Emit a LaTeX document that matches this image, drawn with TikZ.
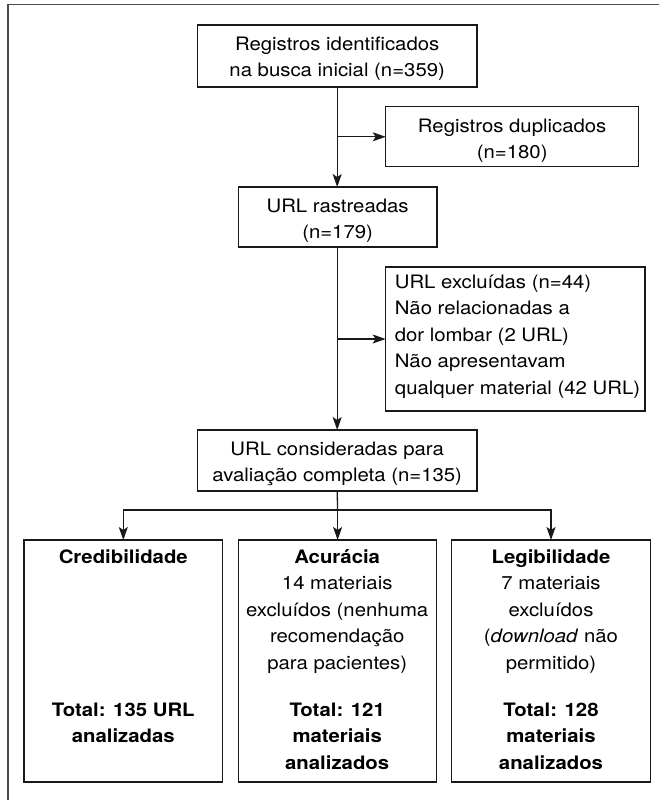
\documentclass[tikz,border=0pt]{standalone}
\usepackage{fontspec}
\setmainfont[FakeStretch=1.1]{TeX Gyre Heros}
\usetikzlibrary{arrows.meta,calc}
\newcommand{\bx}[1]{{\bfseries #1}}
\newcommand{\topstrut}{\rule{0pt}{18pt}}
\begin{document}
\begin{tikzpicture}[x=1pt,y=1pt,
  box/.style={draw=black!90,line width=1.3pt,inner sep=0pt,outer sep=0pt},
  txt/.style={font=\fontsize{18.5}{26.5}\selectfont,align=center,inner sep=0pt},
  arr/.style={line width=1.3pt,draw=black!90,-{Stealth[length=13pt,width=9pt,inset=3pt]}},
  ln/.style={line width=1.3pt,draw=black!90}]
\useasboundingbox (0,0) rectangle (659,-800);
\draw[line width=1.6pt,draw=black!70] (8,-800) -- (8,-4.5) -- (659,-4.5);

\node[box,minimum width=279.5pt,minimum height=62pt] (top) at (337.2,-56) {};
\node[txt,anchor=north] at ([yshift=-7pt]top.north) {\topstrut Registros identificados\\na busca inicial (n=359)};

\node[box,minimum width=253pt,minimum height=60pt] (dup) at (512.2,-136.8) {};
\node[txt,anchor=north] at ([yshift=-7pt]dup.north) {\topstrut Registros duplicados\\(n=180)};

\node[box,minimum width=198.8pt,minimum height=60pt] (rast) at (337.6,-217) {};
\node[txt,anchor=north] at ([yshift=-7pt]rast.north) {\topstrut URL rastreadas\\(n=179)};

\node[box,minimum width=259.3pt,minimum height=144pt] (exc) at (515.3,-339) {};
\node[txt,align=left,anchor=north west] at ([xshift=9pt,yshift=-3pt]exc.north west) {\topstrut URL excluídas (n=44)\\Não relacionadas a\\dor lombar (2 URL)\\Não apresentavam\\qualquer material (42 URL)};

\node[box,minimum width=279.5pt,minimum height=61pt] (cons) at (337.2,-460.5) {};
\node[txt,anchor=north] at ([yshift=-7pt]cons.north) {\topstrut URL consideradas para\\avaliação completa (n=135)};

\node[box,minimum width=198.7pt,minimum height=242pt] (cred) at (123.3,-661) {};
\node[box,minimum width=198pt,minimum height=242pt] (acur) at (337.2,-661) {};
\node[box,minimum width=198.7pt,minimum height=242pt] (legi) at (551,-661) {};

\node[txt,anchor=north] at ([yshift=-5pt]cred.north) {\topstrut\bx{Credibilidade}};
\node[txt,anchor=north] at ([yshift=-5pt]acur.north) {\topstrut\bx{Acurácia}\\14 materiais\\excluídos (nenhuma\\recomendação\\para pacientes)};
\node[txt,anchor=north] at ([yshift=-5pt]legi.north) {\topstrut\bx{Legibilidade}\\7 materiais\\excluídos\\(\textit{download} não\\permitido)};

\node[txt,anchor=north] at ([yshift=-158pt]cred.north) {\topstrut\bx{Total: 135 URL}\\\bx{analizadas}};
\node[txt,anchor=north] at ([yshift=-158pt]acur.north) {\topstrut\bx{Total: 121}\\\bx{materiais}\\\bx{analizados}};
\node[txt,anchor=north] at ([yshift=-158pt]legi.north) {\topstrut\bx{Total: 128}\\\bx{materiais}\\\bx{analizados}};

\draw[arr] (top.south) -- (top.south |- rast.north);
\draw[arr] (top.south |- dup.west) -- (dup.west);
\draw[arr] (top.south |- rast.south) -- (top.south |- cons.north);
\draw[arr] (top.south |- exc.west) -- (exc.west);
\coordinate (split) at (337.6,-510);
\draw[ln] (top.south |- cons.south) -- (split);
\draw[arr] (split) -| (cred.north);
\draw[arr] (split) -| (legi.north);
\draw[arr] (split) -- (split |- acur.north);
\end{tikzpicture}
\end{document}
